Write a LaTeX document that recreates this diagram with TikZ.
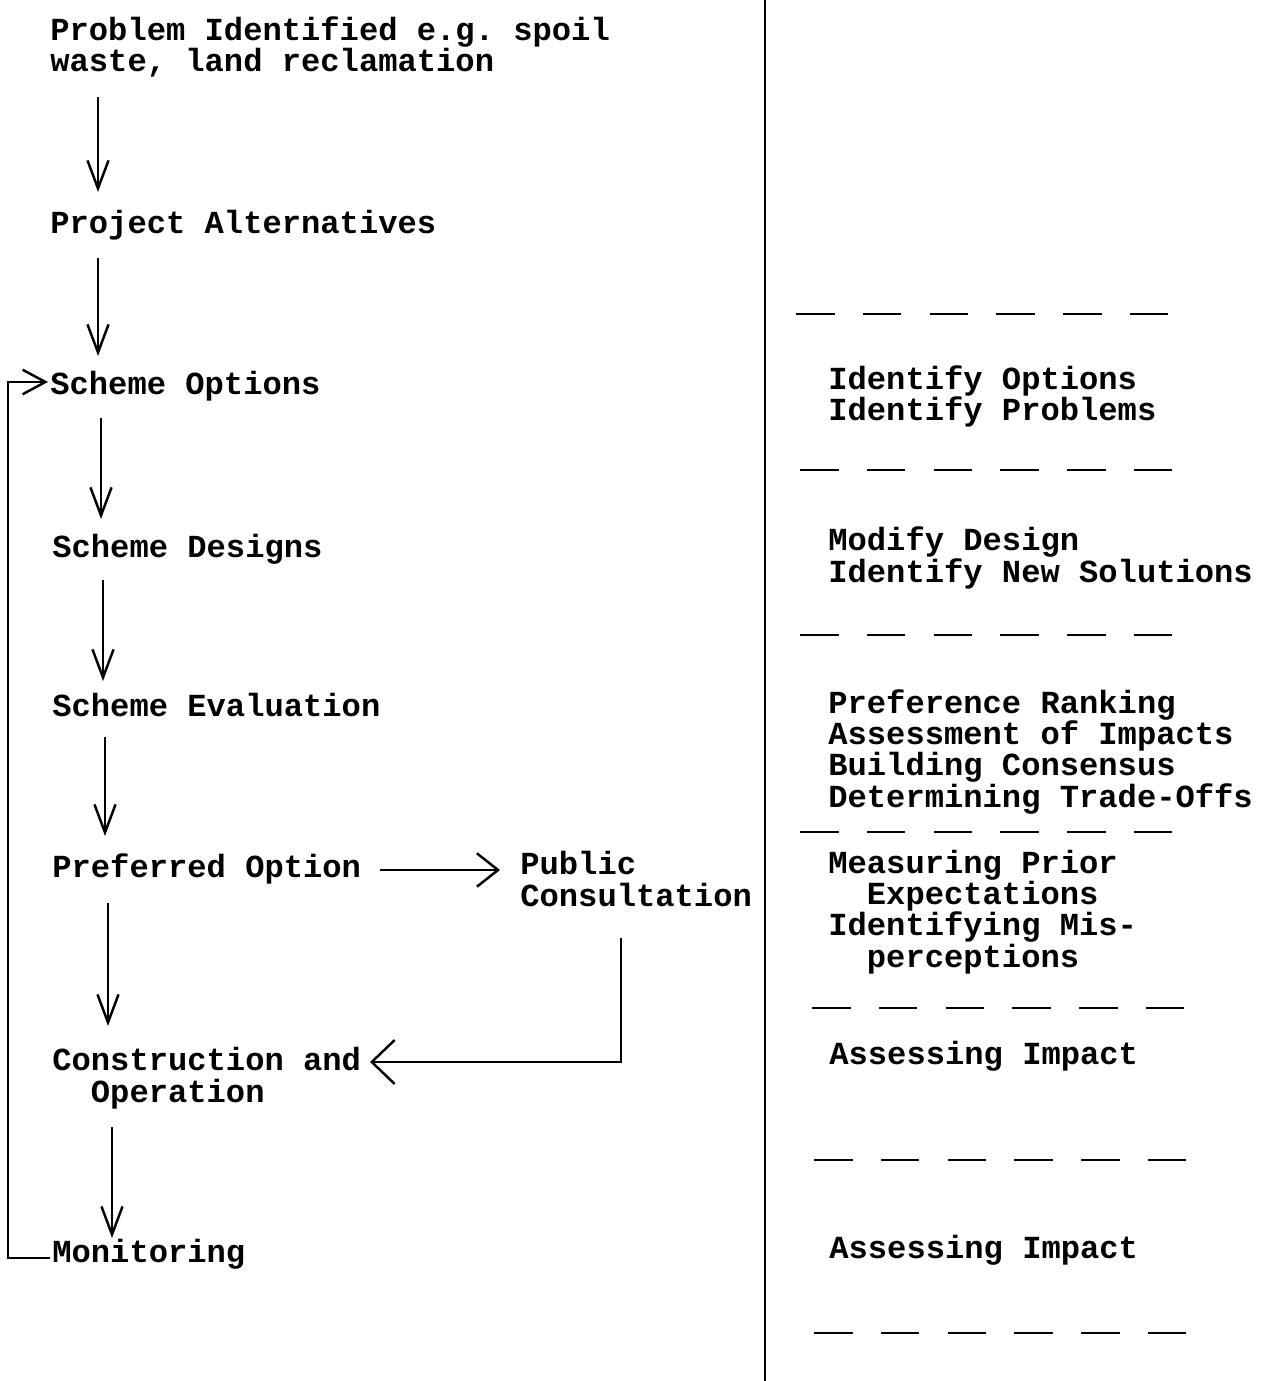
\documentclass[tikz,border=0pt]{standalone}
\usepackage{fontspec}
\newfontfamily\cour{Liberation Mono}
\usetikzlibrary{arrows.meta}
\frenchspacing
\begin{document}
\begin{tikzpicture}[x=0.02cm,y=-0.02cm,
  txt/.style={anchor=base west,inner sep=0pt,align=left,
    font=\cour\bfseries\frenchspacing\fontsize{18.3pt}{17.8pt}\selectfont},
  ln/.style={line width=1.4pt},
  darr/.style={ln,-{Straight Barb[length=16pt,width=12pt,line width=1.4pt]}},
  harr/.style={ln,-{Straight Barb[length=12pt,width=19pt,line width=1.4pt]}},
  barr/.style={ln,-{Straight Barb[length=13pt,width=25pt,line width=1.4pt]}},
  farr/.style={ln,-{Straight Barb[length=13pt,width=14pt,line width=1.4pt]}},
  dash6/.style={line width=1.6pt,dash pattern=on 22pt off 16pt}]
\useasboundingbox (0,0) rectangle (1265,1381);
% left column (base anchor = baseline of last line)
\node[txt] (prob) at (50,72) {Problem Identified e.g. spoil\\waste, land reclamation};
\node[txt] (alt) at (50,234) {Project Alternatives};
\node[txt] (opt) at (50,395) {Scheme Options};
\node[txt] (des) at (52,557) {Scheme Designs};
\node[txt] (eva) at (52,716) {Scheme Evaluation};
\node[txt] (pref) at (52,877) {Preferred Option};
\node[txt] (pub) at (520,906) {Public\\Consultation};
\node[txt] (con) at (52,1102) {Construction and\\\ \ Operation};
\node[txt] (mon) at (52,1262) {Monitoring};
% arrow coordinates
\coordinate (a1s) at (98,97);   \coordinate (a1e) at (98,192);
\coordinate (a2s) at (98,258);  \coordinate (a2e) at (98,356);
\coordinate (a3s) at (101,418); \coordinate (a3e) at (101,519);
\coordinate (a4s) at (103,580); \coordinate (a4e) at (103,681);
\coordinate (a5s) at (105,737); \coordinate (a5e) at (105,836);
\coordinate (a6s) at (108,903); \coordinate (a6e) at (108,1026);
\coordinate (a7s) at (112,1127);\coordinate (a7e) at (112,1238);
\draw[darr] (a1s) -- (a1e);
\draw[darr] (a2s) -- (a2e);
\draw[darr] (a3s) -- (a3e);
\draw[darr] (a4s) -- (a4e);
\draw[darr] (a5s) -- (a5e);
\draw[darr] (a6s) -- (a6e);
\draw[darr] (a7s) -- (a7e);
% preferred -> public
\coordinate (ps) at (380,870);
\coordinate (pe) at (500,870);
\draw[harr] (ps) -- (pe);
% public -> construction
\coordinate (pc) at (621,938);
\coordinate (pcc) at (621,1062);
\coordinate (ce) at (370,1062);
\draw[barr] (pc) -- (pcc) -- (ce);
% feedback loop
\coordinate (fb0) at (50,1258);
\coordinate (fb1) at (8,1258);
\coordinate (fb2) at (8,382);
\coordinate (fb3) at (48,382);
\draw[farr] (fb0) -- (fb1) -- (fb2) -- (fb3);
% separator
\draw[line width=1.6pt] (765,0) -- (765,1381);
% right column
\draw[dash6] (796,314) -- +(374,0);
\node[txt] (r1) at (828,421) {Identify Options\\Identify Problems};
\draw[dash6] (800,470) -- +(374,0);
\node[txt] (r2) at (828,582) {Modify Design\\Identify New Solutions};
\draw[dash6] (800,635) -- +(374,0);
\node[txt] (r3) at (828,807) {Preference Ranking\\Assessment of Impacts\\Building Consensus\\Determining Trade-Offs};
\draw[dash6] (800,832) -- +(374,0);
\node[txt] (r4) at (828,967) {Measuring Prior\\\ \ Expectations\\Identifying Mis-\\\ \ perceptions};
\draw[dash6] (812,1008) -- +(374,0);
\node[txt] (r5) at (829,1064) {Assessing Impact};
\draw[dash6] (814,1160) -- +(374,0);
\node[txt] (r6) at (829,1258) {Assessing Impact};
\draw[dash6] (814,1333) -- +(374,0);
\end{tikzpicture}
\end{document}
